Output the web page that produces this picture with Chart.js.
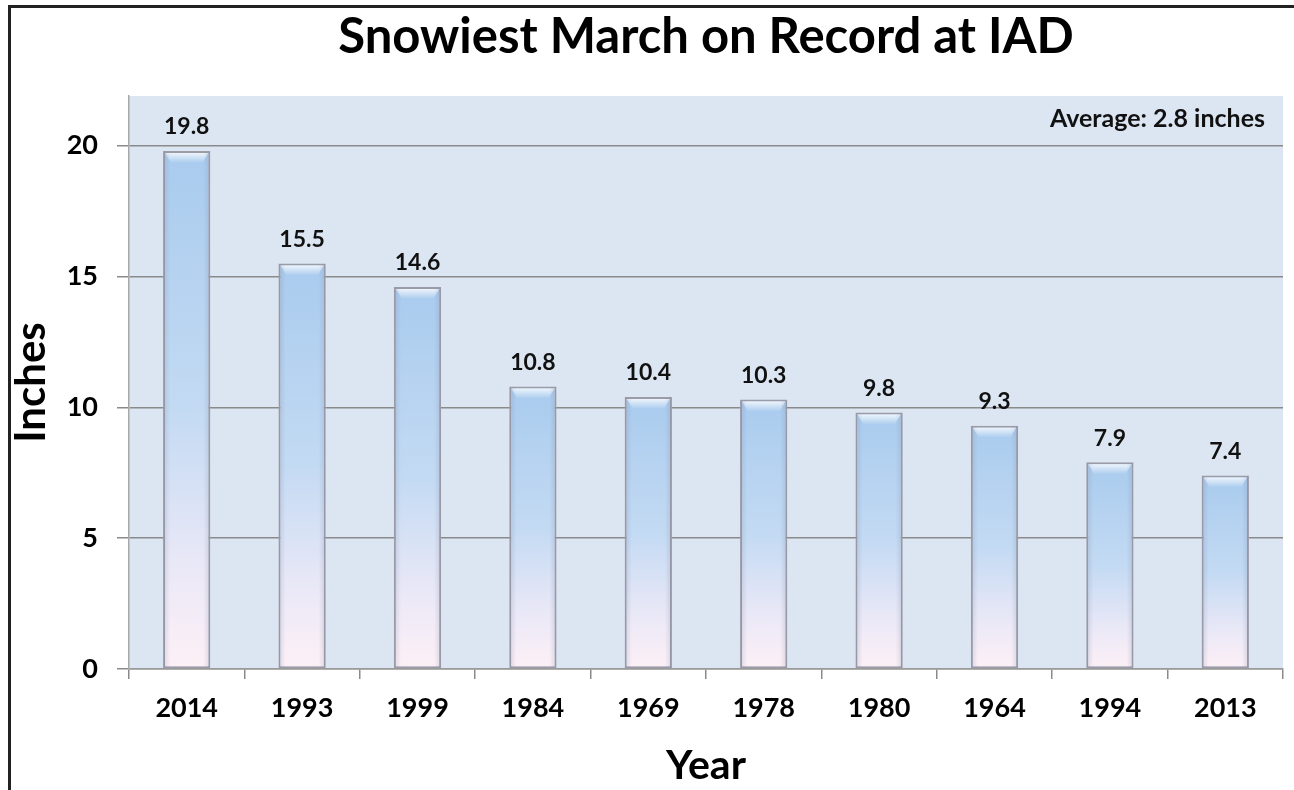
<!DOCTYPE html>
<html>
<head>
<meta charset="utf-8">
<script src="https://cdn.jsdelivr.net/npm/chart.js@4"></script>
<style>
  html, body { margin: 0; padding: 0; background: #fff; }
  #wrap { position: relative; width: 1294px; height: 790px; }
  #frame { position: absolute; left: 8px; top: 5px; right: 0; bottom: 0;
           border-top: 3px solid #222; border-left: 3px solid #222; pointer-events: none; }
  canvas { position: absolute; left: 0; top: 0; }
</style>
</head>
<body>
<div id="wrap">
  <canvas id="c" width="1294" height="790"></canvas>
  <div id="frame"></div>
</div>
<script>
// ---- data ----
const years = ['2014', '1993', '1999', '1984', '1969', '1978', '1980', '1964', '1994', '2013'];
const snowfall = [19.8, 15.5, 14.6, 10.8, 10.4, 10.3, 9.8, 9.3, 7.9, 7.4];
const yTickValues = [0, 5, 10, 15, 20];
const chartTitle = 'Snowiest March on Record at IAD';
const xTitle = 'Year';
const yTitle = 'Inches';
const averageNote = 'Average: 2.8 inches';

const FONT = 'Lato, "Open Sans", sans-serif';

const plotBg = {
  id: 'plotBg',
  beforeDraw(chart) {
    const { ctx, chartArea: a } = chart;
    ctx.save();
    ctx.fillStyle = '#dce6f2';
    ctx.fillRect(a.left, a.top, a.right - a.left, a.bottom - a.top);
    ctx.restore();
  }
};

const barDeco = {
  id: 'barDeco',
  afterDatasetsDraw(chart) {
    const { ctx, chartArea: a } = chart;
    const meta = chart.getDatasetMeta(0);
    ctx.save();
    meta.data.forEach((bar, i) => {
      const w = bar.width, left = bar.x - w / 2, right = bar.x + w / 2, top = bar.y;
      // top bevel highlight
      const g = ctx.createLinearGradient(0, top, 0, top + 12);
      g.addColorStop(0, 'rgba(255,255,255,0.95)');
      g.addColorStop(1, 'rgba(255,255,255,0.0)');
      ctx.fillStyle = g;
      ctx.beginPath();
      ctx.moveTo(left + 2, top + 2);
      ctx.lineTo(right - 2, top + 2);
      ctx.lineTo(right - 8, top + 12);
      ctx.lineTo(left + 8, top + 12);
      ctx.closePath();
      ctx.fill();
      // side shading
      const sg = ctx.createLinearGradient(left, 0, right, 0);
      sg.addColorStop(0, 'rgba(120,130,160,0.25)');
      sg.addColorStop(0.15, 'rgba(120,130,160,0.0)');
      sg.addColorStop(0.85, 'rgba(120,130,160,0.0)');
      sg.addColorStop(1, 'rgba(120,130,160,0.25)');
      ctx.fillStyle = sg;
      ctx.fillRect(left + 1, top + 1, w - 2, bar.base - top - 2);
      // value label
      ctx.fillStyle = '#111';
      ctx.font = 'bold 23px ' + FONT;
      ctx.textAlign = 'center';
      ctx.textBaseline = 'middle';
      ctx.fillText(snowfall[i].toFixed(1), bar.x, top - 24);
    });
    // average note
    ctx.font = 'bold 25px ' + FONT;
    ctx.textAlign = 'right';
    ctx.textBaseline = 'middle';
    ctx.fillStyle = '#111';
    ctx.fillText(averageNote, a.right - 18, a.top + 23);
    ctx.restore();
  }
};

function barGradient(context) {
  const chart = context.chart;
  const y = chart.scales.y;
  if (!chart.chartArea || !y || context.parsed === undefined) return '#bcd5f0';
  const topPx = y.getPixelForValue(context.parsed.y);
  const basePx = y.getPixelForValue(0);
  const g = chart.ctx.createLinearGradient(0, topPx, 0, basePx);
  g.addColorStop(0, '#a9cbee');
  g.addColorStop(0.5, '#c3daf3');
  g.addColorStop(0.82, '#ece9f7');
  g.addColorStop(1, '#fdf0f6');
  return g;
}

new Chart(document.getElementById('c'), {
  type: 'bar',
  data: {
    labels: years,
    datasets: [{
      data: snowfall,
      backgroundColor: barGradient,
      borderColor: '#9c9ca8',
      borderWidth: 2,
      borderSkipped: false,
      barPercentage: 0.41,
      categoryPercentage: 1.0
    }]
  },
  options: {
    responsive: false,
    animation: false,
    layout: { padding: { left: 6, right: 11, top: 0, bottom: 0 } },
    plugins: {
      legend: { display: false },
      tooltip: { enabled: false },
      title: {
        display: true,
        fullSize: false,
        text: chartTitle,
        color: '#000',
        font: { family: FONT, size: 49, weight: 'bold', lineHeight: 1.2 },
        padding: { top: 8, bottom: 29.2 }
      }
    },
    scales: {
      x: {
        grid: { drawOnChartArea: false, drawTicks: true, tickLength: 10, offset: true, color: '#8a8a8a', lineWidth: 1.5 },
        border: { color: '#9a9a9a', width: 1.5 },
        ticks: { color: '#000', font: { family: FONT, size: 27, weight: 'bold' }, padding: 13 },
        title: { display: true, text: xTitle, color: '#000', font: { family: FONT, size: 41, weight: 'bold', lineHeight: 1.2 }, padding: { top: 0, bottom: 0 } },
        afterFit(s) { s.height = 121; }
      },
      y: {
        min: 0,
        max: 21.9,
        afterBuildTicks(s) { s.ticks = yTickValues.map(v => ({ value: v })); },
        grid: { color: '#8a8a8a', lineWidth: 1.5, drawTicks: true, tickLength: 12 },
        border: { color: '#a8a8a8', width: 1.5 },
        ticks: { color: '#000', font: { family: FONT, size: 27, weight: 'bold' }, padding: 19 },
        title: { display: true, text: yTitle, color: '#000', font: { family: FONT, size: 42, weight: 'bold', lineHeight: 1.2 }, padding: { top: 0, bottom: 0 } },
        afterFit(s) { s.width = 123; }
      }
    }
  },
  plugins: [plotBg, barDeco]
});
</script>
</body>
</html>
